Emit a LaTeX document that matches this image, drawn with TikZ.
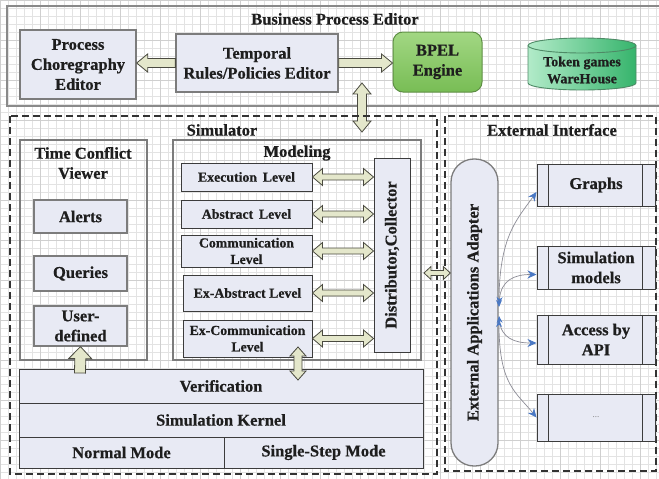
\documentclass[tikz,border=0pt]{standalone}
\usepackage{fontspec}
\setmainfont{Liberation Serif}[BoldFeatures={FakeBold=0.6}]
\usetikzlibrary{calc,arrows.meta}

\definecolor{boxfill}{HTML}{E8EAF4}
\definecolor{boxline}{HTML}{3C3C3C}
\definecolor{softline}{HTML}{7C7C7C}
\definecolor{frameline}{HTML}{8A8A8A}
\definecolor{dashline}{HTML}{333333}
\definecolor{arrowfill}{HTML}{E4E7CB}
\definecolor{arrowline}{HTML}{4A4A40}
\definecolor{bpeltop}{HTML}{A2D783}
\definecolor{bpelbottom}{HTML}{78BD55}
\definecolor{bpeledge}{HTML}{5E8F44}
\definecolor{tokenlight}{HTML}{B2EBC9}
\definecolor{tokendark}{HTML}{36B46C}
\definecolor{tokenedge}{HTML}{4E8A66}
\definecolor{gridminor}{HTML}{E3E3E3}
\definecolor{gridmajor}{HTML}{CFCFCF}
\definecolor{linkgray}{HTML}{8C8C96}
\definecolor{linkblue}{HTML}{4A78C4}
\definecolor{textcol}{HTML}{1E1E1E}

% fat two-way arrow: #1 shaft half width, #2 head half width, #3 head length, #4 from, #5 to
\newcommand\twowayarrow[5]{%
  \draw[fatarrow] let \p1=(#4), \p2=(#5),
    \n1={atan2(\y2-\y1,\x2-\x1)}, \n2={veclen(\x2-\x1,\y2-\y1)} in
    [shift={(\p1)}, rotate=\n1]
    (0pt,0pt) -- (#3pt,#2pt) -- (#3pt,#1pt) -- ({(\n2-#3)*1pt},#1pt) -- ({(\n2-#3)*1pt},#2pt)
    -- ({\n2*1pt},0pt) -- ({(\n2-#3)*1pt},-#2pt) -- ({(\n2-#3)*1pt},-#1pt) -- (#3pt,-#1pt)
    -- (#3pt,-#2pt) -- cycle;}
% fat one-way arrow, head at #5
\newcommand\onewayarrow[5]{%
  \draw[fatarrow] let \p1=(#4), \p2=(#5),
    \n1={atan2(\y2-\y1,\x2-\x1)}, \n2={veclen(\x2-\x1,\y2-\y1)} in
    [shift={(\p1)}, rotate=\n1]
    (0pt,#1pt) -- ({(\n2-#3)*1pt},#1pt) -- ({(\n2-#3)*1pt},#2pt)
    -- ({\n2*1pt},0pt) -- ({(\n2-#3)*1pt},-#2pt) -- ({(\n2-#3)*1pt},-#1pt) -- (0pt,-#1pt) -- cycle;}

\begin{document}
\begin{tikzpicture}[x=1pt, y=-1pt,
  every node/.style={text=textcol, align=center, inner sep=0pt,
    font=\fontsize{16.5}{20}\selectfont\bfseries},
  panel/.style={draw=boxline, fill=boxfill, line width=1pt},
  softpanel/.style={draw=softline, fill=boxfill, line width=1.3pt},
  levelfont/.style={font=\fontsize{13.8}{16.5}\selectfont\bfseries},
  group/.style={draw=softline, line width=1.3pt},
  dashgroup/.style={draw=dashline, line width=1.6pt, dash pattern=on 7pt off 4pt},
  fatarrow/.style={draw=arrowline, fill=arrowfill, line width=0.8pt, line join=miter},
  link/.style={draw=linkgray, line width=0.7pt,
    {Stealth[length=7pt,width=6pt,color=linkblue]}-{Stealth[length=9pt,width=8pt,color=linkblue]}}
]
\useasboundingbox (0,0) rectangle (659,479);
\clip (0,0) rectangle (659,479);
\fill[white] (0,0) rectangle (659,479);

% drawing grid
\draw[gridminor, line width=0.3pt, step=8pt] (0,0) grid (659,479);
\draw[gridmajor, line width=0.4pt, step=40pt] (0,0) grid (659,479);

% ---------- Business Process Editor ----------
\draw[frameline, line width=1.6pt] (7,6) rectangle (670,106);
\node (bpetitle) at (335,19) {Business Process Editor};

\node[softpanel, minimum width=116, minimum height=69] (pce) at (78,64.5)
  {Process\\Choregraphy\\Editor};
\node[softpanel, minimum width=162, minimum height=58] (temp) at (257,63)
  {Temporal\\Rules/Policies Editor};
\node[draw=bpeledge, line width=1pt, top color=bpeltop, bottom color=bpelbottom,
  rounded corners=10pt, minimum width=89, minimum height=60] (bpel) at (437.5,62)
  {BPEL\\Engine};

% token store cylinder
\path[draw=tokenedge, line width=0.9pt, left color=tokenlight, right color=tokendark]
  (528,45.5) -- (528,83) arc[start angle=180, end angle=360, x radius=54pt, y radius=7pt]
  -- (636,45.5) arc[start angle=0, end angle=180, x radius=54pt, y radius=7.5pt] -- cycle;
\draw[tokenedge, line width=0.9pt]
  (528,45.5) arc[start angle=180, end angle=360, x radius=54pt, y radius=7.5pt];
\node[font=\fontsize{14}{17}\selectfont\bfseries] (token) at (582,70) {Token games\\WareHouse};

\onewayarrow{4.5}{9}{11}{temp.west}{pce.east |- temp.west}
\onewayarrow{4.5}{9}{11}{temp.east}{bpel.west |- temp.east}
\coordinate (bpeport) at (362,83);
\coordinate (simport) at (362,132);
\twowayarrow{4.5}{9}{11}{bpeport}{simport}

% ---------- Simulator ----------
\draw[dashgroup] (10,116) rectangle (437,474);
\node (simtitle) at (222,130) {Simulator};

\draw[group] (20,140) rectangle (147,360);
\node (tcvtitle) at (83,163) {Time Conflict\\Viewer};
\node[softpanel, minimum width=93, minimum height=33] (alerts) at (80.5,216.5) {Alerts};
\node[softpanel, minimum width=93, minimum height=35] (queries) at (80.5,273.5) {Queries};
\node[softpanel, minimum width=93, minimum height=40] (userdef) at (80.5,326) {User-\\defined};

\draw[group] (173,140) rectangle (421,360);
\node (modtitle) at (297,153) {Modeling};
\node[panel, levelfont, minimum width=131, minimum height=28] (exec) at (246.5,177) {Execution\, Level};
\node[panel, levelfont, minimum width=131, minimum height=28] (abstr) at (246.5,214) {Abstract\, Level};
\node[panel, levelfont, minimum width=131, minimum height=32] (comm) at (246.5,251) {Communication\\Level};
\node[panel, levelfont, minimum width=129, minimum height=36] (exabs) at (247.5,293) {Ex-Abstract Level};
\node[panel, levelfont, minimum width=129, minimum height=37] (excomm) at (247.5,338.5) {Ex-Communication\\Level};
\node[panel, minimum width=36, minimum height=194] (dist) at (392,255) {};
\node[rotate=90] (disttext) at (dist.center) {Distributor,Collector};

\foreach \lvl in {exec,abstr,comm,exabs,excomm}
  \twowayarrow{3}{8.5}{10}{\lvl.east}{dist.west |- \lvl.east};

\node[panel, minimum width=404, minimum height=34] (verif) at (221,386) {Verification};
\node[panel, minimum width=404, minimum height=34] (kernel) at (221,420) {Simulation Kernel};
\node[panel, minimum width=205, minimum height=31] (normal) at (121.5,452.5) {Normal Mode};
\node[panel, minimum width=199, minimum height=31] (single) at (323.5,452.5) {Single-Step Mode};

\coordinate (modport) at (298,347);
\coordinate (verport) at (298,380);
\twowayarrow{4}{8}{9}{modport}{verport}
\coordinate (verup) at (80,373);
\onewayarrow{5.5}{11.5}{12}{verup}{userdef.south}

% ---------- External Interface ----------
\draw[dashgroup] (445,116) rectangle (656,471);
\node (exttitle) at (552,130) {External Interface};

\node[softpanel, rounded corners=23pt, minimum width=47, minimum height=307] (adapter) at (474.5,312.5) {};
\node[rotate=90] (adaptertext) at (adapter.center) {External Applications Adapter};

\coordinate (simside) at (424,273);
\twowayarrow{2.5}{6.5}{7}{simside}{adapter.west |- simside}

\node[panel, minimum width=118, minimum height=42] (graphs) at (596,185) {Graphs};
\node[panel, minimum width=118, minimum height=43] (simmod) at (596,267.5) {Simulation\\models};
\node[panel, minimum width=118, minimum height=49] (api) at (596,339.5) {Access by\\API};
\node[panel, minimum width=118, minimum height=47] (more) at (596,417.5)
  {\fontsize{9}{10}\selectfont\mdseries\color{gray}...};
\foreach \b in {graphs,simmod,api,more}{
  \draw[boxline, line width=0.9pt] ([xshift=12pt]\b.north west) -- ([xshift=12pt]\b.south west);
  \draw[boxline, line width=0.9pt] ([xshift=-13pt]\b.north east) -- ([xshift=-13pt]\b.south east);
}

\coordinate (hubA) at (499,307);
\coordinate (hubB) at (499,304);
\coordinate (hubC) at (499,316);
\coordinate (hubD) at (499,320);
\draw[link] (hubA) .. controls +(0,-70) and +(-20,28) .. ([yshift=-7pt]graphs.west);
\draw[link] (hubB) .. controls +(2,-24) and +(-22,0) .. ([yshift=-7pt]simmod.west);
\draw[link] (hubC) .. controls +(2,22) and +(-22,0) .. ([yshift=-3.5pt]api.west);
\draw[link] (hubD) .. controls +(0,65) and +(-20,-25) .. (more.west);
\end{tikzpicture}
\end{document}
